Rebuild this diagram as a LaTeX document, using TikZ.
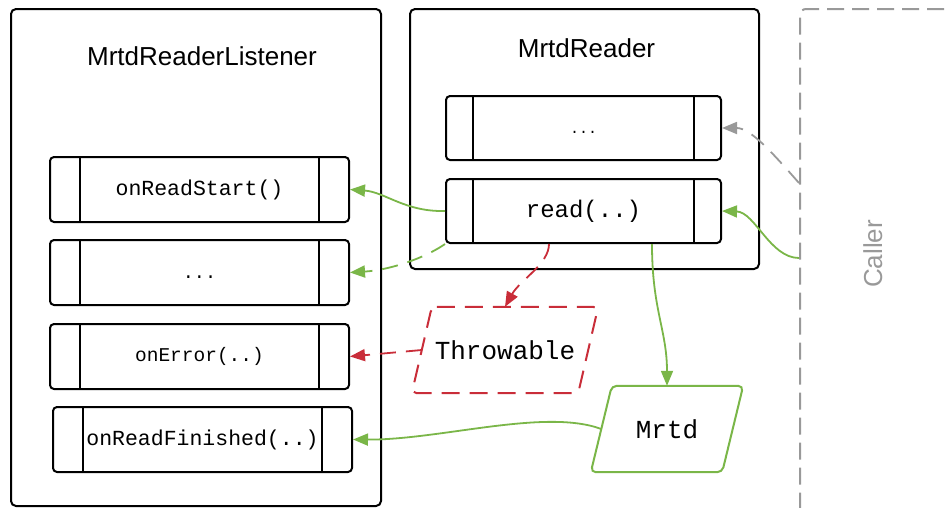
\documentclass[tikz,border=0pt]{standalone}
\usepackage{fontspec}
\setmainfont{Liberation Sans}
\newfontfamily\monof{Liberation Mono}
\usetikzlibrary{arrows.meta}
\definecolor{cgreen}{RGB}{122,182,72}
\definecolor{cred}{RGB}{201,45,57}
\definecolor{cgray}{RGB}{153,153,153}
\tikzset{
  container/.style={draw=black, line width=2pt, rounded corners=5pt, inner sep=0pt},
  titletext/.style={anchor=base, font=\fontsize{26}{30}\selectfont},
  meth/.style={draw=black, line width=2pt, rounded corners=4pt, inner sep=0pt,
    path picture={
      \draw[line width=2pt, sharp corners]
        ([xshift=#1]path picture bounding box.north west) -- ([xshift=#1]path picture bounding box.south west)
        ([xshift=-#1]path picture bounding box.north east) -- ([xshift=-#1]path picture bounding box.south east);
    }},
  parabody/.style={inner sep=0pt, minimum height=86pt},
  paraline/.style={line width=2pt, rounded corners=5pt},
  tip/.style={-{Triangle[length=15pt,width=12pt]}},
  gline/.style={draw=cgreen, line width=1.8pt, tip},
  rline/.style={draw=cred, line width=1.8pt, tip, dash pattern=on 16pt off 10pt},
  grayline/.style={draw=cgray, line width=1.8pt, tip, dash pattern=on 16pt off 10pt},
  gdash/.style={dash pattern=on 16pt off 10pt}
}
\begin{document}
\begin{tikzpicture}[x=1pt,y=-1pt]
\useasboundingbox (0,0) rectangle (945,507);
\clip (0,0) rectangle (945,507);

% containers
\node[container, minimum width=370pt, minimum height=497pt] (listener) at (196,257.5) {};
\node[titletext] (listenertitle) at (202,65) {MrtdReaderListener};
\node[container, minimum width=349pt, minimum height=260pt] (reader) at (584.5,139) {};
\node[titletext] (readertitle) at (586.5,57) {MrtdReader};
\node[draw=cgray, line width=2pt, rounded corners=6pt, dash pattern=on 17pt off 8pt,
      minimum width=200pt, minimum height=530pt, inner sep=0pt] (caller) at (900,274) {};
\node[anchor=base, rotate=90, text=cgray, font=\fontsize{26}{30}\selectfont] (callertext) at (882,254) {Caller};

% listener methods
\node[meth=30pt, minimum width=299pt, minimum height=65pt, font=\monof\fontsize{21.5}{24}\selectfont]
  (ors) at (199.5,189.5) {onReadStart()};
\node[meth=30pt, minimum width=299pt, minimum height=65pt, font=\monof\fontsize{18.5}{22}\selectfont]
  (ldots) at (199.5,272.5) {\raisebox{-5.5pt}[0pt][0pt]{...}};
\node[meth=30pt, minimum width=299pt, minimum height=65pt, font=\monof\fontsize{19.5}{22}\selectfont]
  (oerr) at (199.5,356.5) {onError(..)};
\node[meth=30pt, minimum width=299pt, minimum height=65pt, font=\monof\fontsize{21.5}{24}\selectfont]
  (orf) at (202.5,439.5) {onReadFinished(..)};

% reader methods
\node[meth=27pt, minimum width=275pt, minimum height=64pt, font=\monof\fontsize{15}{18}\selectfont]
  (rdots) at (583.5,128) {\raisebox{-5.5pt}[0pt][0pt]{...}};
\node[meth=27pt, minimum width=275pt, minimum height=64pt, font=\monof\fontsize{24}{28}\selectfont]
  (read) at (583.5,211) {read(..)};

% data shapes (parallelograms)
\node[parabody, minimum width=166pt, font=\monof\fontsize{26}{30}\selectfont] (throw) at (505,350) {Throwable};
\draw[paraline, draw=cred, dash pattern=on 18pt off 10pt]
  ([xshift=10pt]throw.north west) -- ([xshift=10pt]throw.north east)
  -- ([xshift=-10pt]throw.south east) -- ([xshift=-10pt]throw.south west) -- cycle;
\node[parabody, minimum width=131pt, font=\monof\fontsize{26}{30}\selectfont] (mrtd) at (667,429) {Mrtd};
\draw[paraline, draw=cgreen]
  ([xshift=10.5pt]mrtd.north west) -- ([xshift=10.5pt]mrtd.north east)
  -- ([xshift=-10.5pt]mrtd.south east) -- ([xshift=-10.5pt]mrtd.south west) -- cycle;

% connectors
\draw[gline] (read.west) .. controls (405,212) and (385,192) .. (ors.east);
\draw[gline, gdash] (read.south west) .. controls (425,258) and (390,270) .. (ldots.east);
\draw[rline] (read.south -| 549,0) .. controls (549,264) and (520,280) .. (throw.north);
\draw[rline] (throw.west) -- (oerr.east);
\draw[gline] (read.south -| 652,0) .. controls (652,310) and (667,330) .. (mrtd.north);
\draw[gline] (mrtd.west) .. controls (545,408) and (440,440) .. (orf.east);
\draw[gline] (caller.west |- 0,258) .. controls (770,258) and (755,212) .. (read.east);
\draw[grayline] (caller.west |- 0,183) .. controls (770,150) and (750,128) .. (rdots.east);
\end{tikzpicture}
\end{document}
